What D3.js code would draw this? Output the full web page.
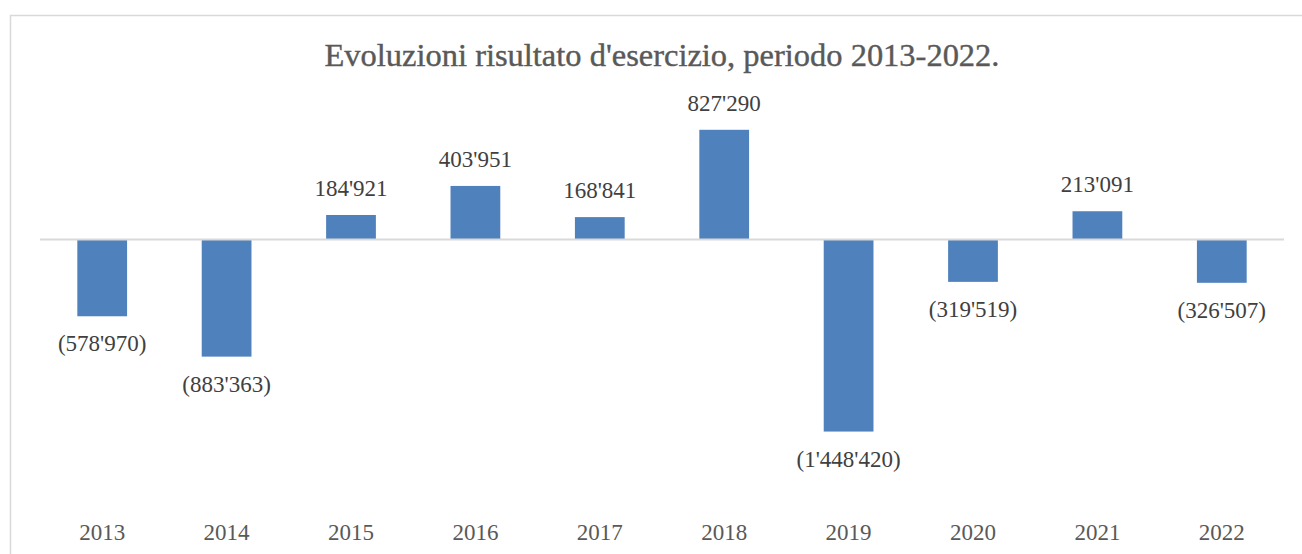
<!DOCTYPE html>
<html><head><meta charset="utf-8">
<script src="https://cdn.jsdelivr.net/npm/d3@7"></script>
<style>body{margin:0;background:#fff}svg{display:block}</style>
</head><body>
<script>
const years = ["2013","2014","2015","2016","2017","2018","2019","2020","2021","2022"];
const results = [-578970,-883363,184921,403951,168841,827290,-1448420,-319519,213091,-326507];
const labels = ["(578'970)","(883'363)","184'921","403'951","168'841","827'290","(1'448'420)","(319'519)","213'091","(326'507)"];
const title = "Evoluzioni risultato d'esercizio, periodo 2013-2022.";

const W=1302,H=554;
const svg=d3.select("body").append("svg").attr("width",W).attr("height",H);
const font="'Liberation Serif','Times New Roman',serif";
const txt="#595959";

svg.append("rect").attr("x",10.5).attr("y",15.5).attr("width",1310).attr("height",560)
  .attr("fill","#fff").attr("stroke","#d9d9d9").attr("stroke-width",1.5);

const x=d3.scaleBand().domain(years).range([40,1284]).paddingInner(0.6).paddingOuter(0.3);
const y=d3.scaleLinear().domain([-1500000,1000000]).range([239.5+198.9,239.5-132.6]);

const t=svg.append("text").attr("x",662).attr("y",66).attr("text-anchor","middle")
  .attr("font-family",font).attr("font-size",26).attr("fill",txt)
  .attr("stroke",txt).attr("stroke-width",0.4).text(title);
const tl=t.node().getComputedTextLength();
t.attr("font-size",26*675/tl);

svg.selectAll("rect.bar").data(results).enter().append("rect").attr("class","bar")
  .attr("x",(d,i)=>x(years[i])).attr("width",x.bandwidth())
  .attr("y",d=>Math.min(y(d),y(0))).attr("height",d=>Math.abs(y(d)-y(0)))
  .attr("fill","#4f81bd");

svg.append("line").attr("x1",40).attr("x2",1284).attr("y1",y(0)).attr("y2",y(0))
  .attr("stroke","#d9d9d9").attr("stroke-width",2);

svg.selectAll("text.lab").data(results).enter().append("text").attr("class","lab")
  .attr("x",(d,i)=>x(years[i])+x.bandwidth()/2)
  .attr("y",d=>d>=0? y(d)-19 : y(d)+35)
  .attr("text-anchor","middle").attr("font-family",font).attr("font-size",23).attr("fill","#404040")
  .text((d,i)=>labels[i]);

const xa=svg.append("g").attr("transform","translate(0,540)").call(d3.axisBottom(x).tickSize(0).tickPadding(0));
xa.select(".domain").remove();
xa.selectAll("text").attr("dy",0).attr("font-family",font).attr("font-size",23).attr("fill",txt);
</script>
</body></html>
